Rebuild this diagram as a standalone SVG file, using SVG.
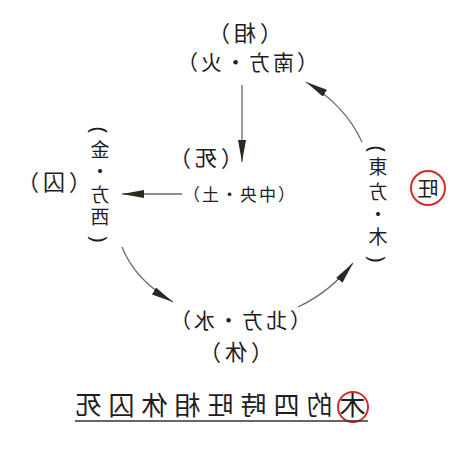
<svg xmlns="http://www.w3.org/2000/svg" width="474" height="452" viewBox="0 0 474 452">
<style>
.t{font-family:"Noto Sans CJK TC","Noto Sans CJK SC",sans-serif;fill:#1e1e1e;text-anchor:middle}
.big{font-size:22px;letter-spacing:4px}
.one{font-size:21px}
.mid{font-size:21px;letter-spacing:3px}
.sm{font-size:17px;letter-spacing:2px}
.col{font-size:19px}
.par{font-family:"Noto Sans",sans-serif;font-size:22px;fill:#1e1e1e;text-anchor:middle;dominant-baseline:central}
.ttl{font-size:26px;letter-spacing:7px}
.ln{fill:none;stroke:#6a6a6a;stroke-width:1.3}
.ring{fill:none;stroke:#d42a2a;stroke-width:2}
</style>
<defs>
<marker id="ah" markerUnits="userSpaceOnUse" markerWidth="24" markerHeight="10" refX="22" refY="4" orient="auto">
<path d="M0,0 L22,4 L0,8 Z" fill="#2a2a22"/>
</marker>
</defs>
<rect width="474" height="452" fill="#ffffff"/>
<g id="connectors">
<path class="ln" d="M242,85 L242,162" marker-end="url(#ah)"/>
<path class="ln" d="M182,194 L122,194" marker-end="url(#ah)"/>
<path class="ln" d="M362,142 Q345,105 306,82" marker-end="url(#ah)"/>
<path class="ln" d="M122,247 Q135,280 173,302" marker-end="url(#ah)"/>
<path class="ln" d="M298,307 Q330,292 353,263" marker-end="url(#ah)"/>
</g>
<g id="node-south">
<text class="t big" transform="translate(243,41) scale(-1,1)">（相）</text>
<text class="t mid" transform="translate(246,70) scale(-1,1)">（南方・火）</text>
</g>
<g id="node-center">
<text class="t big" transform="translate(204,166) scale(-1,1)">（死）</text>
<text class="t sm" transform="translate(238,201) scale(-1,1)">（中央・土）</text>
</g>
<g id="node-west">
<text class="t big" transform="translate(52,190) scale(-1,1)">（囚）</text>
<text class="par" transform="translate(100,130) rotate(90)">(</text>
<text class="t col" transform="translate(100,157) scale(-1,1)">金</text>
<text class="t col" transform="translate(100,179) scale(-1,1)">・</text>
<text class="t col" transform="translate(100,202) scale(-1,1)">方</text>
<text class="t col" transform="translate(100,224) scale(-1,1)">西</text>
<text class="par" transform="translate(100,239) rotate(90)">)</text>
</g>
<g id="node-east">
<text class="par" transform="translate(378,149) rotate(90)">(</text>
<text class="t col" transform="translate(378,174) scale(-1,1)">東</text>
<text class="t col" transform="translate(378,199) scale(-1,1)">方</text>
<text class="t col" transform="translate(378,222) scale(-1,1)">・</text>
<text class="t col" transform="translate(378,244) scale(-1,1)">木</text>
<text class="par" transform="translate(378,259) rotate(90)">)</text>
<circle class="ring" cx="428" cy="188" r="17"/>
<text class="t one" transform="translate(428,196) scale(-1,1)">旺</text>
</g>
<g id="node-north">
<text class="t mid" transform="translate(239,328) scale(-1,1)">（北方・水）</text>
<text class="t big" transform="translate(234,360) scale(-1,1)">（休）</text>
</g>
<g id="title">
<text class="t ttl" transform="translate(217,415) scale(-1,1)">木的四時旺相休囚死</text>
<circle class="ring" cx="353" cy="407" r="15"/>
<line x1="75" y1="421" x2="368" y2="421" stroke="#333" stroke-width="1.5"/>
</g>
</svg>
